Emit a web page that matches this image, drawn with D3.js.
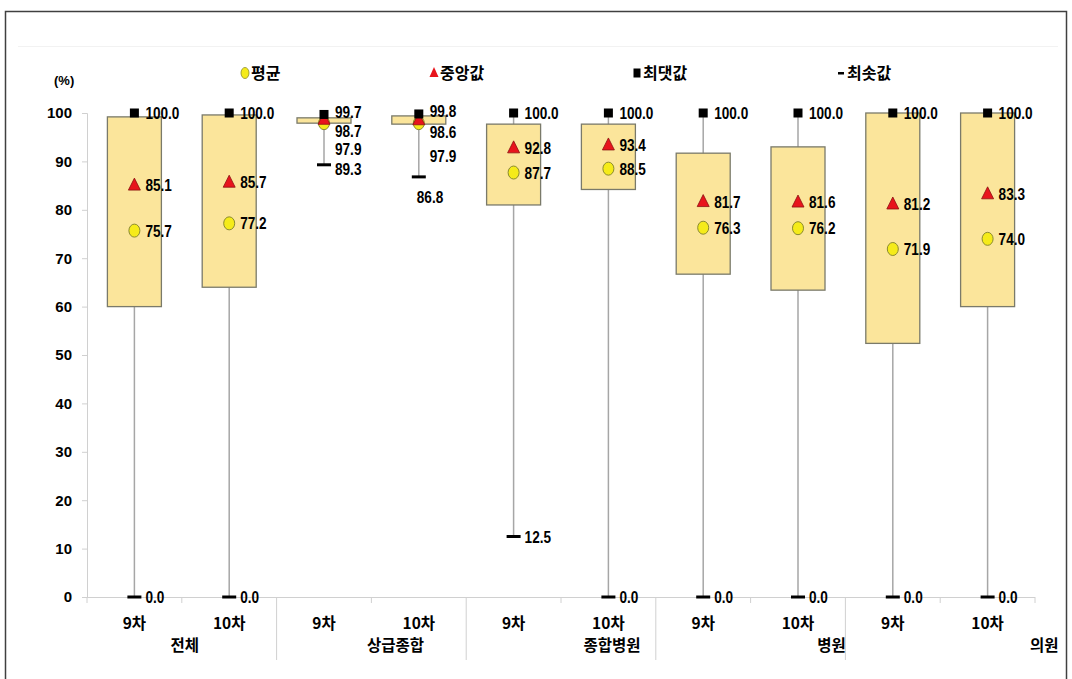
<!DOCTYPE html>
<html>
<head>
<meta charset="utf-8">
<script src="https://cdn.jsdelivr.net/npm/d3@7"></script>
<style>
  html, body { margin: 0; padding: 0; background: #fff; }
  svg { display: block; }
  text { font-family: "Liberation Sans", Arial, "Noto Sans CJK KR", sans-serif; font-weight: bold; fill: #000; }
  .kr { font-family: "Noto Sans CJK KR", "Liberation Sans", sans-serif; }
</style>
</head>
<body>
<svg id="chart" width="1072" height="679"></svg>
<script>
// ---- data ----
const groups = ["전체", "상급종합", "종합병원", "병원", "의원"];
const rounds = ["9차", "10차"];
const q3Values     = [99.2, 99.6, 99.0, 99.4, 97.7, 97.7, 91.7, 93.0, 100.0, 100.0];
const q1Values     = [60.0, 64.0, 97.9, 97.7, 81.0, 84.2, 66.7, 63.4, 52.4, 60.0];
const maxValues    = [100.0, 100.0, 99.7, 99.8, 100.0, 100.0, 100.0, 100.0, 100.0, 100.0];
const minValues    = [0.0, 0.0, 89.3, 86.8, 12.5, 0.0, 0.0, 0.0, 0.0, 0.0];
const medianValues = [85.1, 85.7, 98.7, 98.6, 92.8, 93.4, 81.7, 81.6, 81.2, 83.3];
const meanValues   = [75.7, 77.2, 97.9, 97.9, 87.7, 88.5, 76.3, 76.2, 71.9, 74.0];
const yTicks = [0, 10, 20, 30, 40, 50, 60, 70, 80, 90, 100];
const legendLabels = ["평균", "중앙값", "최댓값", "최솟값"];

// label nudges (layout only, pixels) for crowded 상급종합 labels: [dx, dy]
const labelNudge = {
  "2": { max: [0, -3], median: [0, 12], mean: [0, 26], min: [0, 4] },
  "3": { max: [0, -3], median: [0, 12], mean: [0, 33], min: [-13, 20] }
};
const groupLabelShift = [3, 24, 51, 81, 104];

// ---- layout ----
const svg = d3.select("#chart");
const plotLeft = 87, plotRight = 1035, plotTop = 113, plotBottom = 597;

// frame
svg.append("rect").attr("x", 5.5).attr("y", 11.5).attr("width", 1061).attr("height", 700)
  .attr("fill", "none").attr("stroke", "#404040").attr("stroke-width", 1.5);
svg.append("line").attr("x1", 18).attr("x2", 1058).attr("y1", 46.5).attr("y2", 46.5)
  .attr("stroke", "#f2f2f2").attr("stroke-width", 1);

const keys = [];
groups.forEach(g => rounds.forEach(r => keys.push(g + "|" + r)));

const x = d3.scaleBand().domain(keys).range([plotLeft, plotRight]).padding(0);
const y = d3.scaleLinear().domain([0, 100]).range([plotBottom, plotTop]);
const bw = x.bandwidth();
const boxW = 54;

// y axis
const yAxis = d3.axisLeft(y).tickValues(yTicks).tickSize(5).tickPadding(10).tickFormat(d3.format("d"));
const ya = svg.append("g").attr("transform", `translate(${plotLeft},0)`).call(yAxis);
ya.select(".domain").attr("stroke", "#d0d0d0");
ya.selectAll(".tick line").attr("stroke", "#d0d0d0");
ya.selectAll(".tick text").attr("font-size", 15).attr("fill", "#000")
  .style("font-family", "'Liberation Sans', Arial, sans-serif").style("font-weight", "bold");

svg.append("text").attr("x", 54).attr("y", 85).attr("font-size", 13).text("(%)");

// x axis line
svg.append("line").attr("x1", plotLeft).attr("x2", plotRight).attr("y1", plotBottom + 0.5).attr("y2", plotBottom + 0.5)
  .attr("stroke", "#d0d0d0");
d3.range(keys.length + 1).forEach(i => {
  const bx = plotLeft + i * bw;
  const isGroupSep = (i % 2 === 0) && i > 0 && i < keys.length;
  svg.append("line").attr("x1", bx).attr("x2", bx)
    .attr("y1", plotBottom).attr("y2", isGroupSep ? 660 : plotBottom + 6)
    .attr("stroke", "#d0d0d0");
});

// category labels
keys.forEach(k => {
  svg.append("text").attr("class", "kr")
    .attr("x", x(k) + bw / 2).attr("y", 629).attr("text-anchor", "middle")
    .attr("font-size", 15.5).text(k.split("|")[1]);
});
groups.forEach((g, i) => {
  const cx = x(g + "|" + rounds[0]) + bw + groupLabelShift[i];
  svg.append("text").attr("class", "kr")
    .attr("x", cx).attr("y", 651).attr("text-anchor", "middle")
    .attr("font-size", 15.5).text(g);
});

// boxes
const gBox = svg.append("g");
keys.forEach((k, i) => {
  const cx = x(k) + bw / 2;
  gBox.append("line").attr("x1", cx).attr("x2", cx)
    .attr("y1", y(maxValues[i])).attr("y2", y(minValues[i]))
    .attr("stroke", "#a6a6a6").attr("stroke-width", 1.5);
  gBox.append("rect").attr("x", cx - boxW / 2).attr("width", boxW)
    .attr("y", y(q3Values[i])).attr("height", Math.max(1, y(q1Values[i]) - y(q3Values[i])))
    .attr("fill", "#fbe59b").attr("stroke", "#7a7a6a").attr("stroke-width", 1.3);
});

// markers and labels
const fmt = d3.format(".1f");
function label(i, kind, v) {
  const cx = x(keys[i]) + bw / 2;
  const n = (labelNudge[i] && labelNudge[i][kind]) || [0, 0];
  svg.append("text")
    .attr("transform", `translate(${cx + 11 + n[0]},${y(v) + n[1]}) scale(0.8,1)`)
    .attr("dy", "0.36em").attr("font-size", 17).text(fmt(v));
}
keys.forEach((k, i) => {
  const cx = x(k) + bw / 2;
  svg.append("rect").attr("x", cx - 7).attr("y", y(minValues[i]) - 1.5).attr("width", 14).attr("height", 3).attr("fill", "#000");
  svg.append("ellipse").attr("cx", cx).attr("cy", y(meanValues[i])).attr("rx", 5.5).attr("ry", 6.5)
    .attr("fill", "#f5eb1a").attr("stroke", "#8a8a30").attr("stroke-width", 1);
  const my = y(medianValues[i]);
  svg.append("path").attr("d", `M${cx},${my - 7}L${cx + 6},${my + 5}L${cx - 6},${my + 5}Z`)
    .attr("fill", "#e8141c").attr("stroke", "#8b1010").attr("stroke-width", 0.8);
  svg.append("rect").attr("x", cx - 4.5).attr("y", y(maxValues[i]) - 4.5).attr("width", 9).attr("height", 9).attr("fill", "#000");

  label(i, "max", maxValues[i]);
  label(i, "median", medianValues[i]);
  label(i, "mean", meanValues[i]);
  label(i, "min", minValues[i]);
});

// legend
const legY = 73;
const legX = [245, 434, 637, 841];
const lg = svg.append("g");
lg.append("ellipse").attr("cx", legX[0]).attr("cy", legY).attr("rx", 4).attr("ry", 5.5)
  .attr("fill", "#f5eb1a").attr("stroke", "#8a8a30").attr("stroke-width", 0.8);
lg.append("path").attr("d", `M${legX[1]},${legY - 6}L${legX[1] + 4.5},${legY + 4}L${legX[1] - 4.5},${legY + 4}Z`)
  .attr("fill", "#e8141c");
lg.append("rect").attr("x", legX[2] - 3.5).attr("y", legY - 4.5).attr("width", 7).attr("height", 9).attr("fill", "#000");
lg.append("rect").attr("x", legX[3] - 3).attr("y", legY - 1).attr("width", 6).attr("height", 2.5).attr("fill", "#000");
legendLabels.forEach((t, i) => {
  lg.append("text").attr("class", "kr").attr("x", legX[i] + 6).attr("y", legY).attr("dy", "0.36em")
    .attr("font-size", 16).text(t);
});
</script>
</body>
</html>
